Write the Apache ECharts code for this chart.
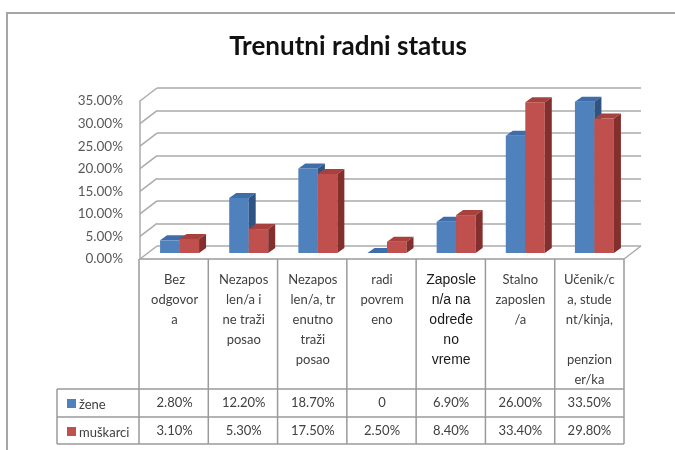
<!DOCTYPE html>
<html lang="sr">
<head>
<meta charset="utf-8">
<title>Trenutni radni status</title>
<script src="https://cdn.jsdelivr.net/npm/echarts@6/dist/echarts.min.js"></script>
<style>
  html, body { margin: 0; padding: 0; background: #fff; }
  #chart { width: 675px; height: 450px; }
</style>
</head>
<body>
<div id="chart"></div>
<script>
// podaci
var categories = [
  'Bez\nodgovor\na',
  'Nezapos\nlen/a i\nne traži\nposao',
  'Nezapos\nlen/a, tr\nenutno\ntraži\nposao',
  'radi\npovrem\neno',
  'Zaposle\nn/a na\nodređe\nno\nvreme',
  'Stalno\nzaposlen\n/a',
  'Učenik/c\na, stude\nnt/kinja,\n\npenzion\ner/ka'
];
var zene = [2.8, 12.2, 18.7, 0, 6.9, 26.0, 33.5];
var muskarci = [3.1, 5.3, 17.5, 2.5, 8.4, 33.4, 29.8];
var yTicks = [0, 5, 10, 15, 20, 25, 30, 35];

// raspored
var L = 139, R = 624, TOP = 101, BASE = 259;
var DX = 17, DY = -13;          // dubina zida
var FX = 5, FY = -6;            // pomak prednje strane stubica
var BDX = 7, BDY = -5;          // dubina stubica
var rowY = [389, 417, 444];
var font = 'Lato, "Open Sans", sans-serif';
var txt = '#404040';

var colors = [
  { front: '#4F81BD', top: '#3E6DAA', side: '#2E5385' },
  { front: '#C0504D', top: '#A8413E', side: '#832F2D' }
];

function fmt(v) { return v === 0 ? '0' : v.toFixed(2) + '%'; }

function barRender(si) {
  return function (params, api) {
    var c = colors[si];
    var cat = api.value(0), val = api.value(1);
    var base = api.coord([cat, 0]);
    var top = api.coord([cat, val]);
    var band = api.size([1, 0])[0];
    var w = band * 0.282;
    var x = base[0] + FX + (si === 0 ? -w : 0);
    var by = base[1] + FY, ty = top[1] + FY;
    return {
      type: 'group',
      children: [
        { type: 'rect', shape: { x: x, y: ty, width: w, height: by - ty }, style: { fill: c.front } },
        { type: 'polygon', shape: { points: [[x, ty], [x + w, ty], [x + w + BDX, ty + BDY], [x + BDX, ty + BDY]] }, style: { fill: c.top } },
        { type: 'polygon', shape: { points: [[x + w, ty], [x + w + BDX, ty + BDY], [x + w + BDX, by + BDY], [x + w, by]] }, style: { fill: c.side } }
      ]
    };
  };
}

function wallRender(params, api) {
  var cs = params.coordSys;
  var y = api.coord([0, api.value(1)])[1];
  var lines = [{ type: 'line', shape: { x1: cs.x, y1: y, x2: cs.x + DX, y2: y + DY }, style: { stroke: '#aaaaaa', lineWidth: 1.5 } }];
  if (api.value(1) === 0) {
    lines.push({ type: 'line', shape: { x1: cs.x + cs.width, y1: y, x2: cs.x + cs.width + DX, y2: y + DY }, style: { stroke: '#aaaaaa', lineWidth: 1.5 } });
  }
  return { type: 'group', children: lines };
}

// tabela
var tableLines = [];
var lineStyle = { stroke: '#9a9a9a', lineWidth: 1.5 };
tableLines.push({ type: 'line', shape: { x1: L, y1: BASE, x2: R, y2: BASE }, style: lineStyle });
rowY.forEach(function (y) {
  tableLines.push({ type: 'line', shape: { x1: 57, y1: y, x2: R, y2: y }, style: lineStyle });
});
tableLines.push({ type: 'line', shape: { x1: 57, y1: rowY[0], x2: 57, y2: rowY[2] }, style: lineStyle });
for (var i = 0; i <= categories.length; i++) {
  var cx = L + i * (R - L) / categories.length;
  tableLines.push({ type: 'line', shape: { x1: cx, y1: BASE, x2: cx, y2: rowY[2] }, style: lineStyle });
}
tableLines.push({ type: 'rect', shape: { x: 7, y: 13, width: 720, height: 500 }, style: { fill: 'none', stroke: '#a6a6a6', lineWidth: 2 } });

var legendBase = {
  orient: 'vertical', left: 62,
  itemWidth: 9, itemHeight: 9, itemGap: 0,
  formatter: function (name) { return '{a|' + name + '}'; },
  textStyle: {
    fontFamily: font, fontSize: 13, color: txt,
    rich: { a: { fontFamily: font, fontSize: 13, color: txt, padding: [2, 0, 0, -2] } }
  }
};

var chart = echarts.init(document.getElementById('chart'));
chart.setOption({
  animation: false,
  backgroundColor: '#fff',
  color: [colors[0].front, colors[1].front],
  title: {
    text: 'Trenutni radni status',
    left: 343, top: 29, textAlign: 'center',
    textStyle: { fontFamily: font, fontSize: 26, fontWeight: 'bold', color: '#111' }
  },
  legend: [
    Object.assign({ data: [{ name: 'žene', icon: 'rect' }], top: 393 }, legendBase),
    Object.assign({ data: [{ name: 'muškarci', icon: 'rect' }], top: 421 }, legendBase)
  ],
  grid: [
    { left: L + 1, right: 675 - R, top: TOP, bottom: 450 - BASE },
    { left: L + 1 + DX, right: 675 - R - DX, top: TOP + DY, bottom: 450 - BASE - DY }
  ],
  xAxis: [
    {
      gridIndex: 0, type: 'category', data: categories,
      axisLine: { show: false }, axisTick: { show: false },
      axisLabel: {
        interval: 0, margin: 11, verticalAlign: 'top', lineHeight: 20,
        fontFamily: font, fontSize: 13, color: txt,
        formatter: function (v, idx) {
          if (idx === 4) return v.split('\n').map(function (l) { return '{b|' + l + '}'; }).join('\n');
          return v;
        },
        rich: { b: { fontFamily: '"Liberation Sans", Arial, sans-serif', fontSize: 14, color: '#1a1a1a', lineHeight: 20 } }
      }
    },
    {
      gridIndex: 0, type: 'category', position: 'bottom', offset: 144,
      data: zene.map(fmt),
      axisLine: { show: false }, axisTick: { show: false },
      axisLabel: { interval: 0, margin: 0, verticalAlign: 'middle', fontFamily: font, fontSize: 13, color: txt }
    },
    {
      gridIndex: 0, type: 'category', position: 'bottom', offset: 172,
      data: muskarci.map(fmt),
      axisLine: { show: false }, axisTick: { show: false },
      axisLabel: { interval: 0, margin: 0, verticalAlign: 'middle', fontFamily: font, fontSize: 13, color: txt }
    },
    { gridIndex: 1, type: 'value', show: false }
  ],
  yAxis: [
    {
      gridIndex: 0, type: 'value', min: 0, max: 35, interval: 5,
      axisLine: { show: true, lineStyle: { color: '#aaaaaa', width: 1.5 } },
      axisTick: { show: false }, splitLine: { show: false },
      axisLabel: { margin: 17, fontFamily: font, fontSize: 13.5, color: '#595959', formatter: function (v) { return v.toFixed(2) + '%'; } }
    },
    {
      gridIndex: 1, type: 'value', min: 0, max: 35, interval: 5,
      axisLine: { show: false }, axisTick: { show: false }, axisLabel: { show: false },
      splitLine: { show: true, lineStyle: { color: '#aaaaaa', width: 1.5 } }
    }
  ],
  graphic: tableLines,
  series: [
    {
      type: 'custom', name: 'zid', xAxisIndex: 0, yAxisIndex: 0, silent: true,
      data: yTicks.map(function (v) { return [0, v]; }),
      renderItem: wallRender, z: 1
    },
    {
      type: 'custom', name: 'žene', xAxisIndex: 0, yAxisIndex: 0,
      itemStyle: { color: colors[0].front },
      data: zene.map(function (v, i) { return [i, v]; }),
      renderItem: barRender(0), z: 3
    },
    {
      type: 'custom', name: 'muškarci', xAxisIndex: 0, yAxisIndex: 0,
      itemStyle: { color: colors[1].front },
      data: muskarci.map(function (v, i) { return [i, v]; }),
      renderItem: barRender(1), z: 4
    }
  ]
});
</script>
</body>
</html>
